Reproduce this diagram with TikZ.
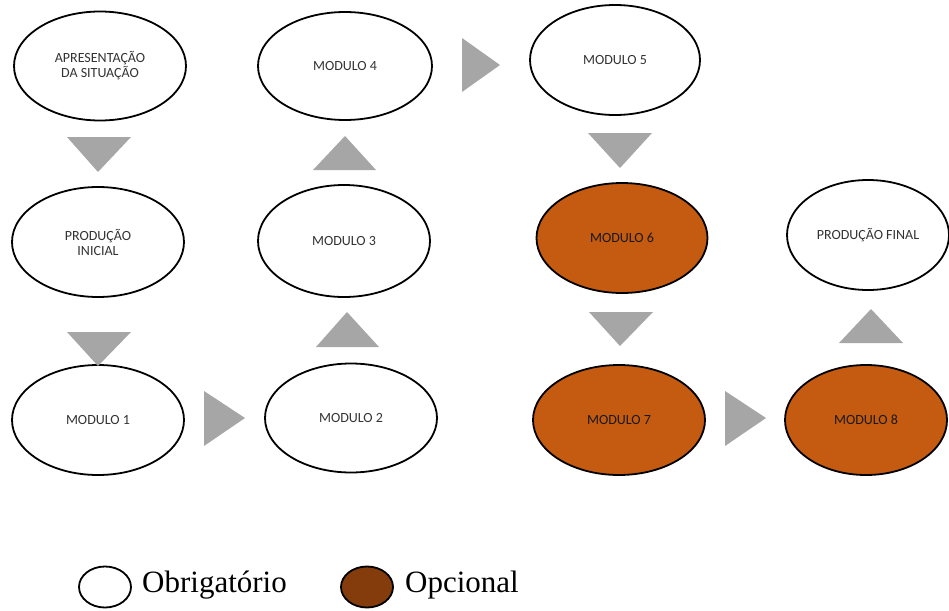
\documentclass[tikz,border=0pt]{standalone}
\usepackage{fontspec}
\setmainfont{Liberation Serif}
\newfontfamily\boxfont{Carlito}
\usetikzlibrary{shapes.geometric}
\definecolor{opt}{HTML}{C55A11}
\definecolor{optleg}{HTML}{843C0C}
\definecolor{trigray}{HTML}{A6A6A6}
\definecolor{txtgray}{HTML}{333333}
\tikzset{
  ell/.style={ellipse, draw=black, line width=1.8pt, fill=white, inner sep=0pt,
    align=center, font=\boxfont\fontsize{14}{15}\selectfont, text=txtgray},
  optell/.style={ell, fill=opt, text=black!90},
  tri/.style={fill=trigray, draw=none},
  legtxt/.style={font=\fontsize{31}{36}\selectfont, anchor=west, inner sep=0pt}
}
\begin{document}
\begin{tikzpicture}[x=1pt,y=-1pt]
\useasboundingbox (0,0) rectangle (949,610);
% ellipses
\node[ell, minimum width=172pt, minimum height=109pt] (sit) at (100,66) {APRESENTAÇÃO\\DA SITUAÇÃO};
\node[ell, minimum width=174pt, minimum height=108pt] (m4) at (345,66) {MODULO 4};
\node[ell, minimum width=170pt, minimum height=110pt] (m5) at (615,60) {MODULO 5};
\node[ell, minimum width=172pt, minimum height=110pt] (pi) at (98,242) {PRODUÇÃO\\INICIAL};
\node[ell, minimum width=172pt, minimum height=112pt] (m3) at (344,241) {MODULO 3};
\node[optell, minimum width=171pt, minimum height=110pt] (m6) at (622,238) {MODULO 6};
\node[ell, minimum width=162pt, minimum height=110pt] (pf) at (868,235) {PRODUÇÃO FINAL};
\node[ell, minimum width=172pt, minimum height=110pt] (m1) at (98,420) {MODULO 1};
\node[ell, minimum width=172pt, minimum height=109pt] (m2) at (351,418) {MODULO 2};
\node[optell, minimum width=172pt, minimum height=110pt] (m7) at (619,420) {MODULO 7};
\node[optell, minimum width=162pt, minimum height=110pt] (m8) at (866,420) {MODULO 8};
% triangles
\fill[tri] (67,137) -- (131,137) -- (98,172) -- cycle;
\fill[tri] (67,332) -- (131,332) -- (98,366) -- cycle;
\fill[tri] (204,391) -- (245,418) -- (204,446) -- cycle;
\fill[tri] (316,347) -- (379,347) -- (347,312) -- cycle;
\fill[tri] (313,170) -- (376,170) -- (345,136) -- cycle;
\fill[tri] (462,38) -- (500,65) -- (462,92) -- cycle;
\fill[tri] (588,133) -- (652,133) -- (620,168) -- cycle;
\fill[tri] (589,312) -- (653,312) -- (620,346) -- cycle;
\fill[tri] (725,391) -- (766,418) -- (725,446) -- cycle;
\fill[tri] (839,343) -- (903,343) -- (871,309) -- cycle;
% legend
\node[ellipse, draw=black, line width=1.8pt, fill=white, minimum width=52pt, minimum height=41pt, inner sep=0pt] (lw) at (105,587) {};
\node[legtxt] (lwt) at (142,585) {Obrigatório};
\node[ellipse, draw=black, line width=1.8pt, fill=optleg, minimum width=52pt, minimum height=41pt, inner sep=0pt] (lo) at (367,587) {};
\node[legtxt] (lot) at (405,585) {Opcional};
\end{tikzpicture}
\end{document}
